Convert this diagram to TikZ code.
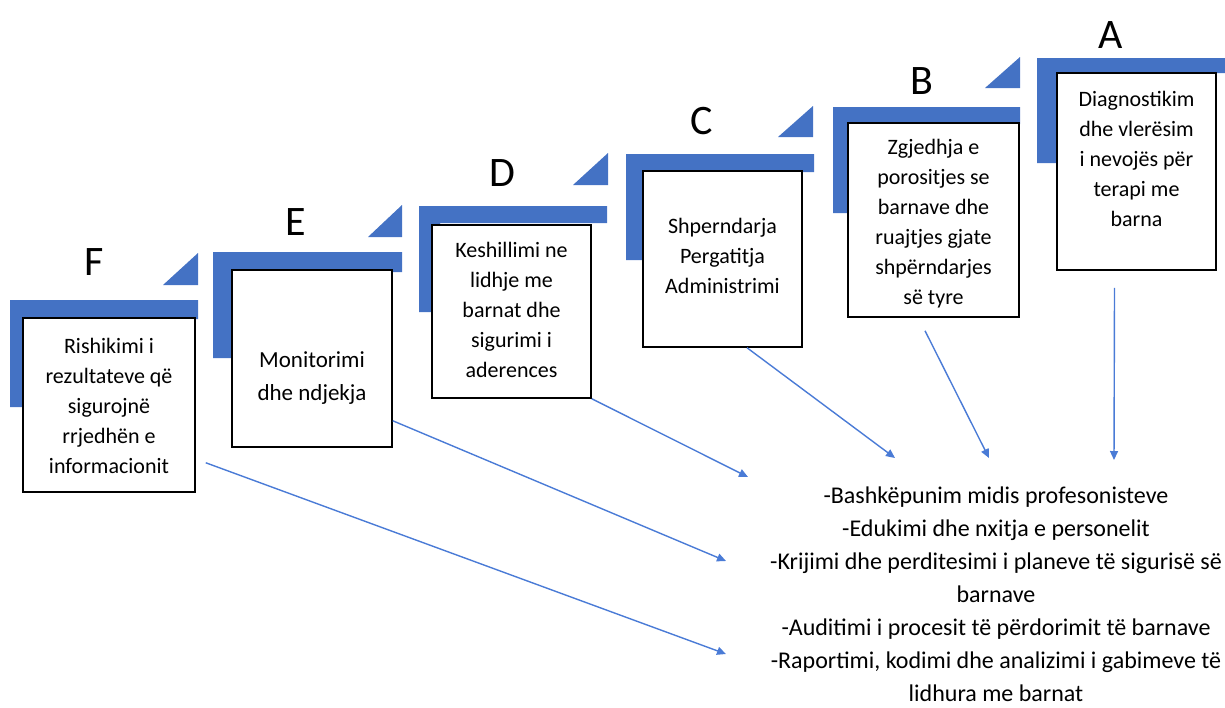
\documentclass[tikz,border=0pt]{standalone}
\usepackage{fontspec}
\setmainfont{Carlito}
\usetikzlibrary{arrows.meta}
\definecolor{stepblue}{HTML}{4472C4}
\definecolor{linkblue}{HTML}{4A7BD6}
\begin{document}
\begin{tikzpicture}
		[	x=1pt,y=-1pt,
		box/.style={rectangle,draw=black,line width=1.5pt,fill=white,inner sep=0pt},
		plain/.style={draw=none,fill=none,align=center,font=\fontsize{22}{30}\selectfont},
		letter/.style={draw=none,font=\fontsize{42}{42}\selectfont},
		link/.style={draw=linkblue,line width=1.4pt,-{Triangle[length=9pt,width=8pt]}}
		]
		\useasboundingbox (0,0) rectangle (1225,707);
		% blue steps
		\fill[stepblue] (10,300) -- (198,300) -- (198,319) -- (30,319) -- (30,407) -- (10,407) -- cycle;
		\fill[stepblue] (213,252) -- (402,252) -- (402,272) -- (240,272) -- (240,358) -- (213,358) -- cycle;
		\fill[stepblue] (419,206) -- (607,206) -- (607,223) -- (440,223) -- (440,312) -- (419,312) -- cycle;
		\fill[stepblue] (626,154) -- (814,154) -- (814,172) -- (650,172) -- (650,260) -- (626,260) -- cycle;
		\fill[stepblue] (833,107) -- (1020,107) -- (1020,124) -- (855,124) -- (855,213) -- (833,213) -- cycle;
		\fill[stepblue] (1037,58) -- (1225,58) -- (1225,73) -- (1065,73) -- (1065,163) -- (1037,163) -- cycle;
		\fill[stepblue] (163,285) -- (198,285) -- (198,253) -- cycle;
		\fill[stepblue] (368,237) -- (402,237) -- (402,205) -- cycle;
		\fill[stepblue] (573,185) -- (608,185) -- (608,153) -- cycle;
		\fill[stepblue] (778,137) -- (813,137) -- (813,106) -- cycle;
		\fill[stepblue] (985,88) -- (1020,88) -- (1020,57) -- cycle;
		% letters
		\node[letter] (lF) at (94,262){F};
		\node[letter] (lE) at (296,222){E};
		\node[letter] (lD) at (502,173){D};
		\node[letter] (lC) at (702,121){C};
		\node[letter] (lB) at (922,81){B};
		\node[letter] (lA) at (1111,35){A};
		% boxes
		\node[box,minimum width=172pt,minimum height=174pt] (boxF) at (109,405){};
		\node[box,minimum width=160pt,minimum height=177pt] (boxE) at (312,358.5){};
		\node[box,minimum width=159pt,minimum height=173pt] (boxD) at (511.5,311.5){};
		\node[box,minimum width=159pt,minimum height=176pt] (boxC) at (722.5,259){};
		\node[box,minimum width=171pt,minimum height=194pt] (boxB) at (933.5,220){};
		\node[box,minimum width=159pt,minimum height=197pt] (boxA) at (1136.5,171.5){};
\node[plain] (txtF) at (109,406){Rishikimi i\\rezultateve që\\sigurojnë\\rrjedhën e\\informacionit};
\node[plain,font=\fontsize{23}{33}\selectfont] (txtE) at (312,378){Monitorimi\\dhe ndjekja};
\node[plain] (txtD) at (511.5,310){Keshillimi ne\\lidhje me\\barnat dhe\\sigurimi i\\aderences};
\node[plain] (txtC) at (722.5,256){Shperndarja\\Pergatitja\\Administrimi};
\node[plain] (txtB) at (933.5,224){Zgjedhja e\\porositjes se\\barnave dhe\\ruajtjes gjate\\shpërndarjes\\së tyre};
\node[plain] (txtA) at (1136.5,159){Diagnostikim\\dhe vlerësim\\i nevojës për\\terapi me\\barna};
\node[plain,font=\fontsize{24}{33}\selectfont] (measures) at (996,594){-Bashkëpunim midis profesonisteve\\-Edukimi dhe nxitja e personelit\\-Krijimi dhe perditesimi i planeve të sigurisë së\\barnave\\-Auditimi i procesit të përdorimit të barnave\\-Raportimi, kodimi dhe analizimi i gabimeve të\\lidhura me barnat};
		% arrows
		\coordinate (tA) at (1114,460);
		\coordinate (tB) at (989,458);
		\coordinate (tC) at (895,458);
		\coordinate (tD) at (748,477);
		\coordinate (tE) at (726,561);
		\coordinate (tF) at (726,654);
		\draw[link] ([xshift=-22pt,yshift=-17pt]boxA.south) -- (tA);
		\draw[link] ([xshift=-8.5pt,yshift=-13pt]boxB.south) -- (tB);
		\draw[link] ([xshift=24.5pt]boxC.south) -- (tC);
		\draw[link] (boxD.south east) -- (tD);
		\draw[link] ([yshift=27pt]boxE.south east) -- (tE);
		\draw[link] ([shift={(10pt,30pt)}]boxF.south east) -- (tF);
\end{tikzpicture}
\end{document}
